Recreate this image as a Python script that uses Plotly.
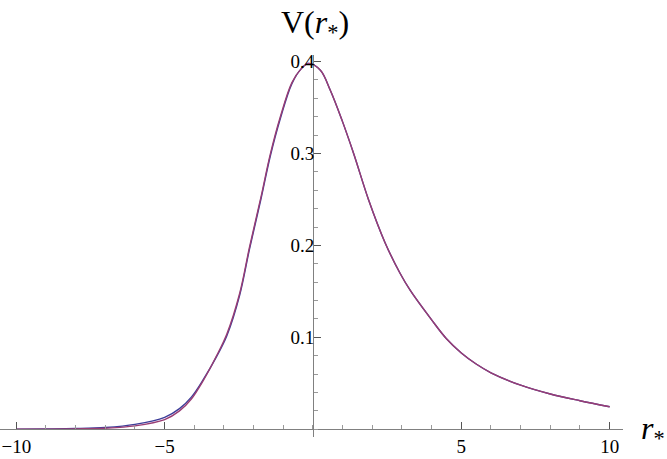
import plotly.graph_objects as go

# r_* values
r_star = [-10, -9, -8, -7, -6, -5, -4.5, -4.1, -3.7, -3.25, -2.9, -2.47, -2.14, -1.75,
          -1.44, -1.10, -0.71, -0.4, -0.15, 0.25, 0.58, 0.98, 1.37, 1.87, 2.43,
          2.93, 3.28, 4.0, 4.5, 5.0, 5.5, 6.0, 7.0, 8.0, 9.0, 10.0]

# purple curve
v_purple = [0.0001, 0.0002, 0.0005, 0.0012, 0.0037, 0.0105, 0.020, 0.033, 0.053,
            0.080, 0.104, 0.148, 0.198, 0.253, 0.299, 0.340, 0.377, 0.392, 0.398,
            0.3905, 0.369, 0.336, 0.300, 0.250, 0.203, 0.170, 0.151, 0.119, 0.0985,
            0.083, 0.071, 0.0615, 0.048, 0.0384, 0.0311, 0.0246]

# blue curve
v_blue = [0.0002, 0.0004, 0.0008, 0.0020, 0.0054, 0.0130, 0.0225, 0.035, 0.054,
          0.079, 0.102, 0.146, 0.196, 0.251, 0.297, 0.338, 0.376, 0.392, 0.398,
          0.3905, 0.369, 0.336, 0.300, 0.250, 0.203, 0.170, 0.151, 0.119, 0.0985,
          0.083, 0.071, 0.0615, 0.048, 0.0384, 0.0311, 0.0246]

x_tick_vals = [-10, -5, 5, 10]
x_tick_text = ["\u221210", "\u22125", "5", "10"]
y_tick_vals = [0.1, 0.2, 0.3, 0.4]
y_tick_text = ["0.1", "0.2", "0.3", "0.4"]

fig = go.Figure()
fig.add_trace(go.Scatter(x=r_star, y=v_blue, mode="lines",
                         line=dict(color="#3d3d99", width=1.4, shape="spline", smoothing=1.0),
                         showlegend=False, hoverinfo="skip"))
fig.add_trace(go.Scatter(x=r_star, y=v_purple, mode="lines",
                         line=dict(color="#993d74", width=1.4, shape="spline", smoothing=1.0),
                         showlegend=False, hoverinfo="skip"))

x_range = [-10.55, 10.45]
y_range = [-0.00837, 0.4071]
x_pos = (0 - y_range[0]) / (y_range[1] - y_range[0])
y_pos = (0 - x_range[0]) / (x_range[1] - x_range[0])

font_family = "Liberation Serif, Times New Roman, serif"

fig.update_layout(
    width=667, height=459,
    margin=dict(l=0, r=44, t=55, b=22),
    paper_bgcolor="white", plot_bgcolor="white",
    font=dict(family=font_family, size=19, color="black"),
    xaxis=dict(range=x_range, anchor="free", position=x_pos,
               showgrid=False, zeroline=False, showline=True,
               linecolor="#808080", linewidth=1,
               ticks="inside", ticklen=7, tickcolor="#555555", tickwidth=1,
               tickmode="array", tickvals=x_tick_vals, ticktext=x_tick_text,
               tickfont=dict(family=font_family, size=19, color="black"),
               minor=dict(dtick=1, tick0=0, ticks="inside", ticklen=4,
                          tickcolor="#999999", tickwidth=1, showgrid=False)),
    yaxis=dict(range=y_range, anchor="free", position=y_pos,
               showgrid=False, zeroline=False, showline=True,
               linecolor="#808080", linewidth=1,
               ticks="inside", ticklen=7, tickcolor="#555555", tickwidth=1,
               tickmode="array", tickvals=y_tick_vals, ticktext=y_tick_text,
               tickfont=dict(family=font_family, size=19, color="black"),
               ticklabelstandoff=-5,
               minor=dict(dtick=0.02, tick0=0, ticks="inside", ticklen=4,
                          tickcolor="#999999", tickwidth=1, showgrid=False)),
    annotations=[
        dict(text="V(<i>r</i><sub>*</sub>)", xref="paper", yref="paper",
             x=0.5056, y=1.081, xanchor="center", yanchor="middle", showarrow=False,
             font=dict(family=font_family, size=32, color="black")),
        dict(text="<i>r</i><sub>*</sub>", xref="paper", yref="paper",
             x=1.048, y=0.016, xanchor="center", yanchor="middle", showarrow=False,
             font=dict(family=font_family, size=32, color="black")),
    ],
)

fig.write_html("out.html", config={"displayModeBar": False},
               post_script="document.body.style.margin='0px';document.body.style.padding='0px';")
